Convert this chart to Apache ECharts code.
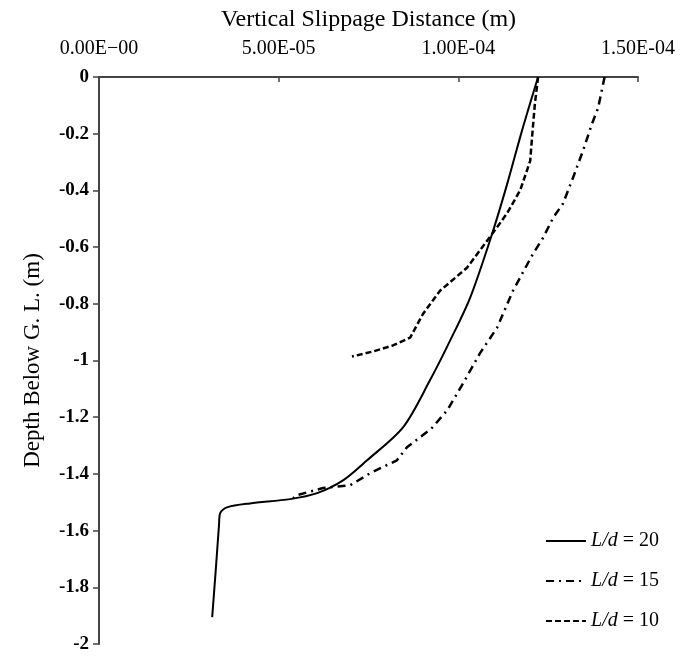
<!DOCTYPE html>
<html>
<head>
<meta charset="utf-8">
<script src="https://cdn.jsdelivr.net/npm/echarts@6/dist/echarts.min.js"></script>
<style>html,body{margin:0;padding:0;background:#fff}#c{width:680px;height:661px}</style>
</head>
<body>
<div id="c"></div>
<script>
// X tick labels (top axis)
const xTickLabels = ["0.00E\u221200", "5.00E-05", "1.00E-04", "1.50E-04"];

// L/d = 20 (solid)
const ld20X = [12.22e-5, 11.77e-5, 11.36e-5, 10.94e-5, 10.33e-5, 9.77e-5, 9.21e-5, 8.46e-5, 7.46e-5, 6.79e-5, 6.07e-5, 5.32e-5, 4.20e-5, 3.56e-5, 3.37e-5, 3.34e-5, 3.26e-5, 3.15e-5];
const ld20Y = [0, -0.19, -0.377, -0.553, -0.778, -0.93, -1.07, -1.236, -1.352, -1.423, -1.468, -1.489, -1.504, -1.518, -1.539, -1.58, -1.72, -1.905];

// L/d = 15 (dash-dot)
const ld15X = [14.07e-5, 13.89e-5, 13.72e-5, 13.47e-5, 13.19e-5, 12.91e-5, 12.64e-5, 12.36e-5, 12.08e-5, 11.52e-5, 11.08e-5, 10.60e-5, 10.13e-5, 9.69e-5, 9.25e-5, 8.57e-5, 8.29e-5, 7.54e-5, 6.99e-5, 6.23e-5, 5.51e-5, 5.40e-5];
const ld15Y = [0, -0.109, -0.165, -0.26, -0.356, -0.447, -0.496, -0.567, -0.623, -0.754, -0.884, -0.975, -1.081, -1.176, -1.24, -1.306, -1.352, -1.398, -1.44, -1.45, -1.475, -1.486];

// L/d = 10 (dashed)
const ld10X = [12.22e-5, 12.13e-5, 12.05e-5, 12.0e-5, 11.72e-5, 11.36e-5, 11.02e-5, 10.24e-5, 9.49e-5, 9.02e-5, 8.66e-5, 8.18e-5, 7.63e-5, 7.04e-5];
const ld10Y = [0, -0.095, -0.215, -0.296, -0.40, -0.48, -0.54, -0.673, -0.754, -0.835, -0.919, -0.947, -0.968, -0.986];

const seriesNames = ["L/d = 20", "L/d = 15", "L/d = 10"];

function pairs(xs, ys) { return xs.map((x, i) => [x, ys[i]]); }

const FONT = "Liberation Serif";
const chart = echarts.init(document.getElementById('c'), null, {renderer: 'canvas'});
chart.setOption({
  backgroundColor: '#fff',
  animation: false,
  grid: {left: 99, right: 42, top: 77, bottom: 17},
  xAxis: {
    type: 'value', position: 'top', min: 0, max: 1.5e-4, interval: 5e-5,
    name: 'Vertical Slippage Distance (m)', nameLocation: 'middle', nameGap: 45,
    nameTextStyle: {fontFamily: FONT, fontSize: 24, color: '#000'},
    axisLine: {show: true, lineStyle: {color: '#444', width: 2}},
    axisTick: {show: true, inside: true, length: 5, lineStyle: {color: '#444', width: 1.5}},
    axisLabel: {fontFamily: FONT, fontSize: 20, color: '#000', margin: 18,
      formatter: (v, i) => xTickLabels[i]},
    splitLine: {show: false}
  },
  yAxis: {
    type: 'value', min: -2, max: 0, interval: 0.2,
    name: 'Depth Below G. L. (m)', nameLocation: 'middle', nameGap: 55, nameRotate: 90,
    nameTextStyle: {fontFamily: FONT, fontSize: 23, color: '#000'},
    axisLine: {show: true, lineStyle: {color: '#444', width: 2}},
    axisTick: {show: true, inside: false, length: 6, lineStyle: {color: '#444', width: 1.5}},
    axisLabel: {fontFamily: FONT, fontSize: 19, color: '#000', margin: 10, fontWeight: 'bold',
      formatter: v => String(Math.round(v * 10) / 10)},
    splitLine: {show: false}
  },
  legend: {
    orient: 'vertical', right: 16, top: 526, itemGap: 20, itemWidth: 40, itemHeight: 14,
    data: seriesNames,
    itemStyle: {opacity: 0},
    formatter: name => {
      const parts = name.split(' = ');
      return '{i|' + parts[0] + '} = ' + parts[1];
    },
    textStyle: {fontFamily: FONT, fontSize: 20, color: '#000',
      rich: {i: {fontFamily: FONT, fontSize: 20, fontStyle: 'italic', color: '#000'}}}
  },
  series: [
    {name: seriesNames[0], type: 'line', data: pairs(ld20X, ld20Y), symbol: 'none', smooth: 0.3,
      lineStyle: {color: '#000', width: 2, type: 'solid'}, itemStyle: {color: '#000'}},
    {name: seriesNames[1], type: 'line', data: pairs(ld15X, ld15Y), symbol: 'none',
      lineStyle: {color: '#000', width: 2.5, type: [8, 5, 2, 5]}, itemStyle: {color: '#000'}},
    {name: seriesNames[2], type: 'line', data: pairs(ld10X, ld10Y), symbol: 'none',
      lineStyle: {color: '#000', width: 2.5, type: [6, 3]}, itemStyle: {color: '#000'}}
  ]
});
</script>
</body>
</html>
